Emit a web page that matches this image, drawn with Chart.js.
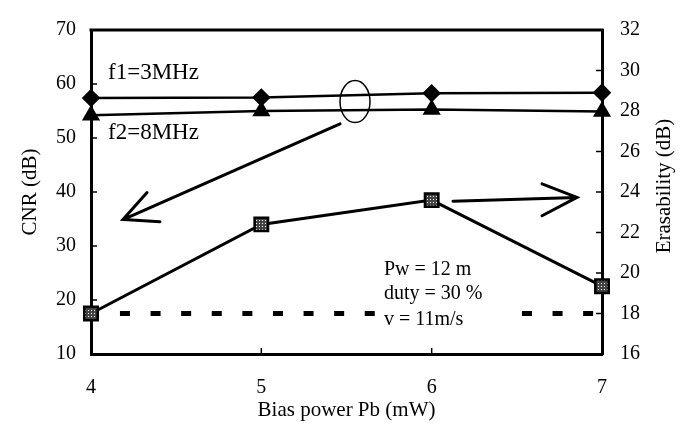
<!DOCTYPE html>
<html>
<head>
<meta charset="utf-8">
<script src="https://cdn.jsdelivr.net/npm/chart.js@4.4.0/dist/chart.umd.min.js"></script>
<style>
html,body{margin:0;padding:0;background:#fff;}
#wrap{width:683px;height:426px;}
</style>
</head>
<body>
<div id="wrap"><canvas id="c" width="683" height="426"></canvas></div>
<script>
const biasPower = [4, 5, 6, 7];
const cnrF1 = [57.4, 57.5, 58.3, 58.4];
const cnrF2 = [54.2, 55.0, 55.3, 54.9];
const erasability = [18.0, 22.4, 23.6, 19.35];
const refLevel = 18.0;
const refSegA = [4.17, 5.67];
const refSegB = [6.53, 6.95];
const cnrTicks = [10, 20, 30, 40, 50, 60, 70];
const erasTicks = [16, 18, 20, 22, 24, 26, 28, 30, 32];
const xTicks = [4, 5, 6, 7];

const SERIF = '"Liberation Serif", "Times New Roman", serif';

function pts(xs, ys) { return xs.map((x, i) => ({x: x, y: ys[i]})); }

// stippled pattern for square markers
const pc = document.createElement('canvas');
pc.width = 3; pc.height = 3;
const pctx = pc.getContext('2d');
pctx.fillStyle = '#444'; pctx.fillRect(0, 0, 3, 3);
pctx.fillStyle = '#fff'; pctx.fillRect(1, 1, 1, 1);
const stipple = document.getElementById('c').getContext('2d').createPattern(pc, 'repeat');

const annotations = {
  id: 'annotations',
  beforeDatasetsDraw(chart) {
    const ctx = chart.ctx;
    const a = chart.chartArea;
    ctx.save();
    ctx.strokeStyle = '#000';
    ctx.lineWidth = 3;
    ctx.beginPath();
    ctx.moveTo(a.left - 1.5, a.top); ctx.lineTo(a.right + 1.5, a.top);
    ctx.stroke();
    // right axis title, reading bottom to top
    ctx.fillStyle = '#000';
    ctx.font = '21px ' + SERIF;
    ctx.textAlign = 'center';
    ctx.textBaseline = 'middle';
    ctx.translate(664, (a.top + a.bottom) / 2 - 6);
    ctx.rotate(-Math.PI / 2);
    ctx.fillText('Erasability (dB)', 0, 0);
    ctx.restore();
  },
  afterDatasetsDraw(chart) {
    const ctx = chart.ctx;
    const xs = chart.scales.x, ys = chart.scales.y;
    const X = v => xs.getPixelForValue(v), Y = v => ys.getPixelForValue(v);
    const a = chart.chartArea;
    ctx.save();
    ctx.strokeStyle = '#000';
    // inner tick marks
    ctx.lineWidth = 1.5;
    ctx.beginPath();
    cnrTicks.forEach(t => { const y = Y(t); ctx.moveTo(a.left, y); ctx.lineTo(a.left + 6, y); });
    erasTicks.forEach(t => { const y = chart.scales.y2.getPixelForValue(t); ctx.moveTo(a.right, y); ctx.lineTo(a.right - 6, y); });
    xTicks.forEach(t => { const x = X(t); ctx.moveTo(x, a.bottom); ctx.lineTo(x, a.bottom - 6); });
    ctx.stroke();

    // texts
    ctx.fillStyle = '#000';
    ctx.textBaseline = 'middle';
    ctx.textAlign = 'left';
    ctx.font = '23px ' + SERIF;
    ctx.fillText('f1=3MHz', X(4.10), Y(62.1));
    ctx.fillText('f2=8MHz', X(4.10), Y(50.9));
    ctx.font = '20px ' + SERIF;
    ctx.fillText('Pw = 12 m', X(5.72), Y(25.6));
    ctx.fillText('duty = 30 %', X(5.72), Y(21.1));
    ctx.fillText('v = 11m/s', X(5.72), Y(16.3));

    // ellipse
    ctx.lineWidth = 1.5;
    ctx.beginPath();
    ctx.ellipse(X(5.55), Y(56.75), 15, 21, 0, 0, Math.PI * 2);
    ctx.stroke();

    // arrows
    ctx.lineWidth = 3;
    ctx.lineCap = 'round';
    ctx.beginPath();
    ctx.moveTo(X(5.462), Y(52.63)); ctx.lineTo(X(4.188), Y(34.9));
    ctx.moveTo(X(4.329), Y(39.9)); ctx.lineTo(X(4.188), Y(34.9)); ctx.lineTo(X(4.405), Y(34.5));
    ctx.moveTo(X(6.125), Y(38.3)); ctx.lineTo(X(6.853), Y(39.0));
    ctx.moveTo(X(6.648), Y(41.5)); ctx.lineTo(X(6.853), Y(39.0)); ctx.lineTo(X(6.648), Y(35.6));
    ctx.stroke();
    ctx.restore();
  }
};

new Chart(document.getElementById('c'), {
  type: 'line',
  data: {
    datasets: [
      { label: 'f1=3MHz', data: pts(biasPower, cnrF1), yAxisID: 'y', borderColor: '#000', borderWidth: 2.5, clip: false,
        pointStyle: 'rectRot', pointRadius: 7.5, pointBackgroundColor: '#000', pointBorderColor: '#000', tension: 0 },
      { label: 'f2=8MHz', data: pts(biasPower, cnrF2), yAxisID: 'y', borderColor: '#000', borderWidth: 2.5, clip: false,
        pointStyle: 'triangle', pointRadius: 8, pointBackgroundColor: '#000', pointBorderColor: '#000', tension: 0 },
      { label: 'Erasability', data: pts(biasPower, erasability), yAxisID: 'y2', borderColor: '#000', borderWidth: 3, clip: false,
        pointStyle: 'rect', pointRadius: 9.5, pointBackgroundColor: stipple, pointBorderColor: '#000', pointBorderWidth: 2.5, tension: 0 },
      { label: 'ref A', data: refSegA.map(x => ({x: x, y: refLevel})), yAxisID: 'y2', borderColor: '#000', borderWidth: 5,
        borderDash: [10, 20.6], borderCapStyle: 'butt', pointRadius: 0 },
      { label: 'ref B', data: refSegB.map(x => ({x: x, y: refLevel})), yAxisID: 'y2', borderColor: '#000', borderWidth: 5,
        borderDash: [10, 20.6], borderCapStyle: 'butt', pointRadius: 0 }
    ]
  },
  options: {
    responsive: false,
    animation: false,
    devicePixelRatio: 1,
    layout: { padding: { top: 19, left: 0, right: 0, bottom: 0 } },
    plugins: { legend: { display: false }, tooltip: { enabled: false } },
    scales: {
      x: {
        type: 'linear', min: 4, max: 7,
        afterBuildTicks: s => { s.ticks = xTicks.map(v => ({value: v})); },
        afterFit: s => { s.height = 72; },
        grid: { drawOnChartArea: false, drawTicks: false },
        border: { color: '#000', width: 3 },
        ticks: { color: '#000', font: { family: SERIF, size: 20 }, padding: 22 },
        title: { display: true, text: 'Bias power Pb (mW)', color: '#000', font: { family: SERIF, size: 21 }, padding: { top: 0, bottom: 3 } }
      },
      y: {
        position: 'left', min: 10, max: 70,
        afterBuildTicks: s => { s.ticks = cnrTicks.map(v => ({value: v})); },
        afterFit: s => { s.width = 91; },
        grid: { drawOnChartArea: false, drawTicks: false },
        border: { color: '#000', width: 3 },
        ticks: { color: '#000', font: { family: SERIF, size: 20 }, padding: 15 },
        title: { display: true, text: 'CNR (dB)', color: '#000', font: { family: SERIF, size: 21 }, padding: { top: 18, bottom: 0 } }
      },
      y2: {
        position: 'right', min: 16, max: 32,
        afterBuildTicks: s => { s.ticks = erasTicks.map(v => ({value: v})); },
        afterFit: s => { s.width = 81; },
        grid: { drawOnChartArea: false, drawTicks: false },
        border: { color: '#000', width: 3 },
        ticks: { color: '#000', font: { family: SERIF, size: 20 }, padding: 18 },
        title: { display: false, text: 'Erasability (dB)' }
      }
    }
  },
  plugins: [annotations]
});
</script>
</body>
</html>
